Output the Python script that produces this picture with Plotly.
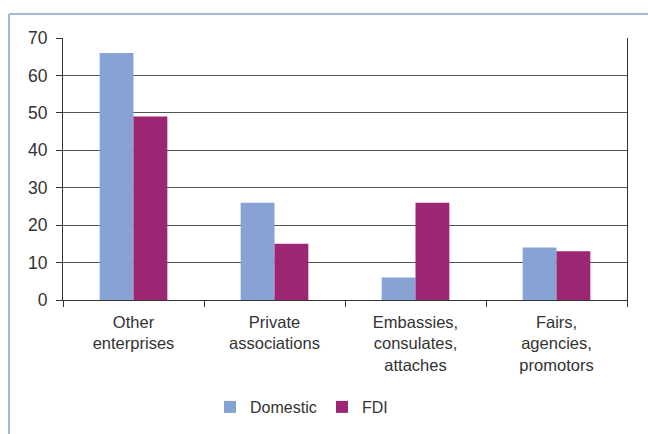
import plotly.graph_objects as go

categories = ["Other<br>enterprises", "Private<br>associations",
              "Embassies,<br>consulates,<br>attaches", "Fairs,<br>agencies,<br>promotors"]
domestic = [66, 26, 6, 14]
fdi = [49, 15, 26, 13]
y_ticks = [0, 10, 20, 30, 40, 50, 60, 70]

W, H = 648, 434
L, R, T, B = 63, 21, 38, 133
pw, ph = W - L - R, H - T - B

def px_x(x):
    return (x - L) / pw

def px_y(y):
    return (H - B - y) / ph

fig = go.Figure()
fig.add_trace(go.Bar(x=categories, y=domestic, name="Domestic",
                     marker=dict(color="#87A3D3", line=dict(width=0))))
fig.add_trace(go.Bar(x=categories, y=fdi, name="FDI",
                     marker=dict(color="#9C2673", line=dict(width=0))))

fam = "Liberation Sans, Arial, sans-serif"
xfont = dict(family=fam, size=16.5, color="#333333")
yfont = dict(family=fam, size=17.5, color="#333333")

fig.update_layout(
    width=W, height=H,
    margin=dict(l=L, r=R, t=T, b=B),
    paper_bgcolor="white", plot_bgcolor="white",
    barmode="group", bargap=0.52, bargroupgap=0,
    font=xfont,
    showlegend=True,
    legend=dict(orientation="h", x=px_x(210), xanchor="left",
                y=px_y(407), yanchor="middle",
                entrywidth=67, entrywidthmode="pixels",
                font=dict(family=fam, size=16, color="#333333"),
                itemclick=False, bgcolor="rgba(0,0,0,0)"),
    xaxis=dict(tickson="boundaries", ticks="outside", ticklen=6, tickcolor="#333333",
               showline=True, linecolor="#333333", linewidth=1, showgrid=False,
               tickfont=xfont, ticklabelstandoff=7),
    yaxis=dict(range=[0, 70], tickvals=y_ticks, ticks="outside", ticklen=6,
               tickcolor="#333333", showline=True, linecolor="#333333", linewidth=1,
               mirror=True, showgrid=True, gridcolor="#555555", gridwidth=1,
               zeroline=False, tickfont=yfont, ticklabelstandoff=5),
    shapes=[
        dict(type="line", xref="paper", yref="paper",
             x0=px_x(9), x1=px_x(W + 5), y0=px_y(14), y1=px_y(14),
             line=dict(color="#A4B8D8", width=2)),
        dict(type="line", xref="paper", yref="paper",
             x0=px_x(9), x1=px_x(9), y0=px_y(14), y1=px_y(H + 5),
             line=dict(color="#A4B8D8", width=2)),
    ],
)

fig.write_html("out.html", config={"displayModeBar": False},
               post_script="document.body.style.margin='0';document.body.style.overflow='hidden';")
